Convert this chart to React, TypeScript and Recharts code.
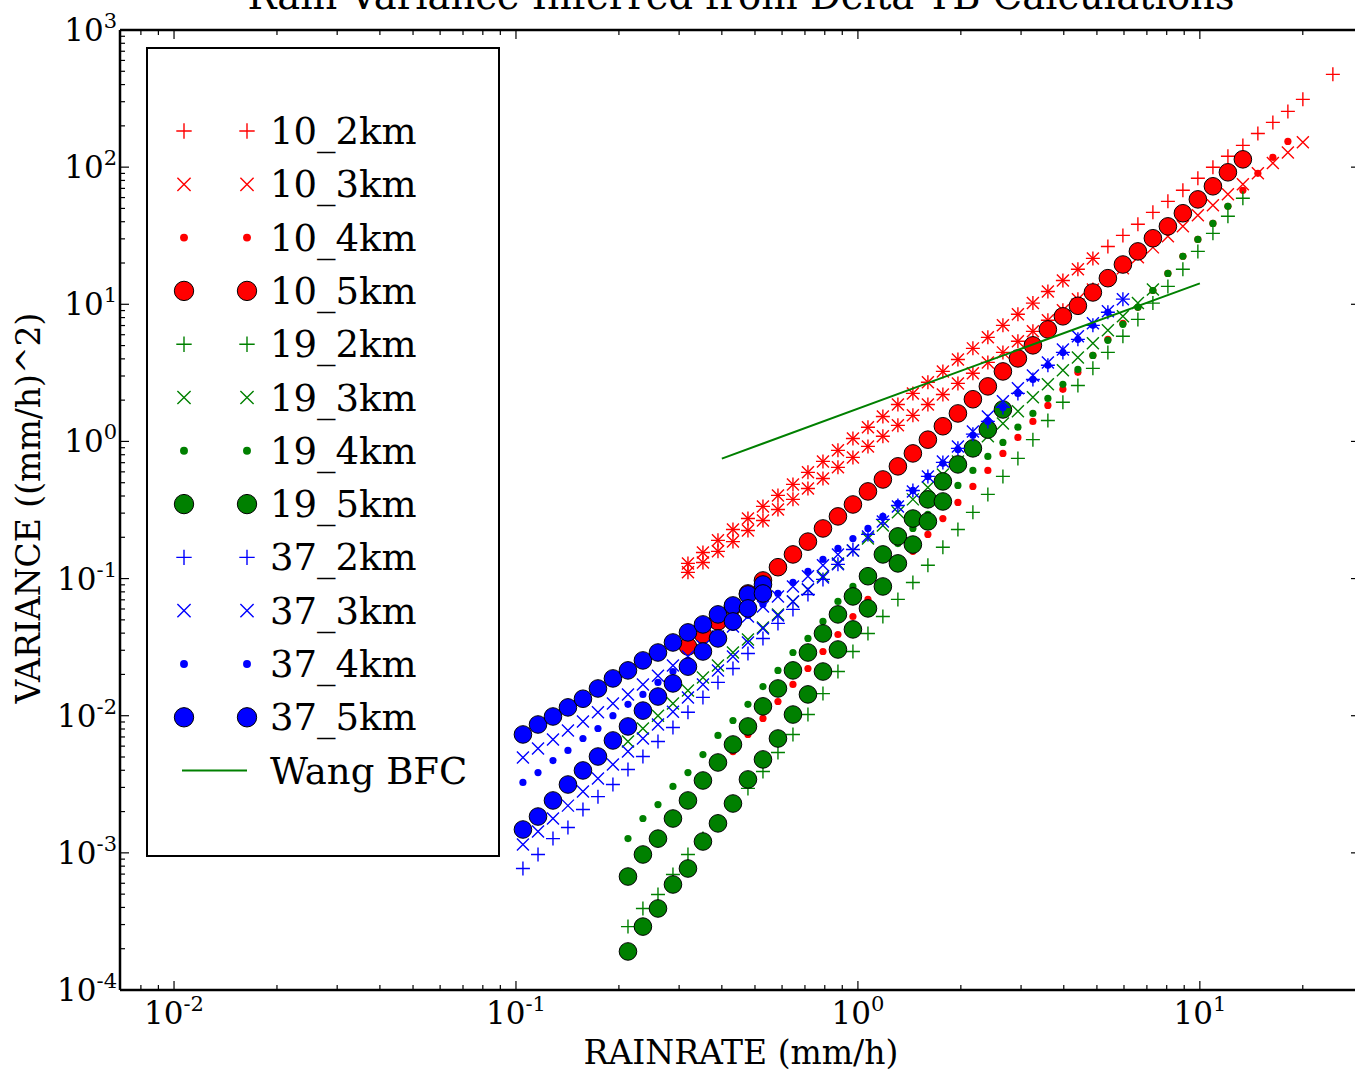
import { ScatterChart, Scatter, XAxis, YAxis, Legend, Label } from 'recharts';

const FONT = '"DejaVu Serif", serif';
const RED = '#ff0000';
const GREEN = '#008000';
const BLUE = '#0000ff';

// rain-rate bins (mm/h) shared by every series
const RAIN = [
  0.1048, 0.1160, 0.1283, 0.1419, 0.1570, 0.1737, 0.1921, 0.2126, 0.2351, 0.2602,
  0.2878, 0.3184, 0.3522, 0.3897, 0.4311, 0.4769, 0.5276, 0.5837, 0.6457, 0.7143,
  0.7903, 0.8742, 0.9670, 1.070, 1.183, 1.309, 1.448, 1.602, 1.772, 1.961,
  2.169, 2.399, 2.655, 2.937, 3.249, 3.594, 3.976, 4.399, 4.866, 5.383,
  5.956, 6.589, 7.289, 8.064, 8.920, 9.867, 10.92, 12.08, 13.36, 14.78,
  16.35, 18.09, 20.01, 22.13, 24.49,
];

// variance ((mm/h)^2), first value sits on RAIN[start]
const V10_2KM = { start: 11, values: [
  0.129, 0.155, 0.190, 0.228, 0.274, 0.336, 0.404, 0.486, 0.595, 0.715, 0.861, 1.05, 1.27, 1.52,
  1.86, 2.24, 2.70, 3.24, 3.96, 4.77, 5.74, 7.02, 8.45, 10.2, 12.4, 14.9, 18.0, 21.6, 26.4, 31.8,
  38.3, 46.8, 56.3, 67.8, 82.9, 99.7, 120, 144, 176, 212, 255, 312, null, 475,
] };
const V10_2KM_LOWER = { start: 11, values: [
  0.111, 0.131, 0.158, 0.186, 0.224, 0.265, 0.319, 0.378, 0.454, 0.537, 0.647, 0.765, 0.920, 1.09,
  1.31, 1.55, 1.86, 2.20, 2.65, 3.14, 3.77, 4.46, 5.37, 6.35, 7.64, 9.03, 10.9, 12.8,
] };
const V10_3KM = { start: 11, values: [
  0.111, 0.131, 0.158, 0.186, 0.224, 0.265, 0.319, 0.378, 0.454, 0.537, 0.647, 0.765, 0.920, 1.09,
  1.31, 1.55, 1.86, 2.20, 2.65, 3.14, 3.77, 4.46, 5.37, 6.35, 7.64, 9.03, 10.9, 12.8, 15.5, 18.3,
  22.0, 26.0, 31.3, 37.0, 44.5, 52.7, 63.4, 74.9, 90.2, 107, 128, 152,
] };
const V10_3KM_UPPER = { start: 11, values: [
  0.129, 0.155, 0.190, 0.228, 0.274, 0.336, 0.404, 0.486, 0.595, 0.715, 0.861, 1.05, 1.27, 1.52,
  1.86, 2.24, 2.70, 3.24, 3.96, 4.77, 5.74, 7.02, 8.45, 10.2, 12.4, 14.9, 18.0, 21.6,
] };
const V10_4KM = { start: 14, values: [
  0.00548, 0.0073, 0.00955, 0.0127, 0.0169, 0.0221, 0.0294, 0.0391, 0.0529, 0.0705, 0.0906, 0.119,
  0.158, 0.210, 0.274, 0.359, 0.470, 0.615, 0.818, 1.07, 1.40, 1.83, 2.40, 3.19, 4.24, 5.55, 7.26,
  9.51, 12.6, 16.8, 22.4, 29.7, 38.9, 51.8, 67.8, 90.2, 118, 154,
] };
const V10_5KM = { start: 11, values: [
  0.0320, 0.0391, 0.0487, 0.0626, 0.0779, 0.0969, 0.121, 0.150, 0.186, 0.232, 0.284, 0.347, 0.432,
  0.528, 0.658, 0.818, 1.03, 1.29, 1.60, 2.03, 2.52, 3.24, 4.03, 5.02, 6.56, 8.17, 9.75, 12.2, 15.5,
  19.5, 24.3, 30.3, 37.0, 46.1, 58.2, 72.5, 91.7, 114,
] };
const V19_2KM = { start: 7, values: [
  0.00029, 0.000393, 0.000497, 0.000695, 0.000973, 0.00127, 0.00169, 0.00225, 0.00295, 0.00392,
  0.00539, 0.0073, 0.0102, 0.0145, 0.0210, 0.0294, 0.0398, 0.0529, 0.0705, 0.0937, 0.125, 0.169,
  0.228, 0.304, 0.411, 0.556, 0.752, 1.03, 1.42, 1.93, 2.56, 3.41, 4.46, 5.84, 7.76, 10.2, 13.5,
  18.0, 24.3, 32.9, 43.8, 59.3,
] };
const V19_3KM = { start: 7, values: [
  0.00649, 0.00807, 0.0100, 0.0123, 0.0153, 0.0190, 0.0232, 0.0289, 0.0360, 0.0440, 0.0548, 0.0681,
  0.0833, 0.104, 0.129, 0.160, 0.196, 0.244, 0.304, 0.378, 0.462, 0.575, 0.715, 0.875, 1.09, 1.35,
  1.66, 2.10, 2.61, 3.30, 4.10, 5.19, 6.46, 8.17, 10.2, 12.8,
] };
const V19_4KM = { start: 7, values: [
  0.00127, 0.00178, 0.00225, 0.00305, 0.00385, 0.00521, 0.00718, 0.00923, 0.0121, 0.0163, 0.0214,
  0.0289, 0.0366, 0.0487, 0.0681, 0.0876, 0.111, 0.143, 0.180, 0.232, 0.294, 0.378, 0.478, 0.615,
  0.778, 0.984, 1.27, 1.60, 2.06, 2.61, 3.35, 4.24, 5.46, 7.14, 9.51, 12.6, 16.8, 22.4, 29.7, 38.9, 51.8,
] };
const V19_5KM_UPPER = { start: 7, values: [
  0.000672, 0.000973, 0.00127, 0.00178, 0.00241, 0.00337, 0.00456, 0.00617, 0.00835, 0.0117, 0.0158,
  0.0214, 0.0289, 0.0398, 0.0548, 0.0741, 0.104, 0.150, 0.203, 0.274, 0.378, 0.511, 0.680, 0.890, 1.22, 1.71,
] };
const V19_5KM_LOWER = { start: 7, values: [
  0.000191, 0.00029, 0.000393, 0.000588, 0.000769, 0.00121, 0.00164, 0.00229, 0.00343, 0.0048, 0.00682,
  0.0102, 0.0143, 0.0210, 0.0304, 0.0426, 0.0606, 0.0876, 0.129, 0.177, 0.261, 0.365,
] };
const V37_2KM = { start: 0, values: [
  0.000769, 0.000973, 0.00127, 0.00153, 0.00207, 0.00257, 0.00315, 0.00405, 0.00504, 0.00649, 0.00821,
  0.0106, 0.0136, 0.0175, 0.0221, 0.0284, 0.0366, 0.0471, 0.0596, 0.0766, 0.0986, 0.127, 0.163, 0.210,
  0.270, 0.341, 0.439, 0.556, 0.703, 0.890, 1.13, 1.40, 1.77, 2.24, 2.83, 3.59, 4.46, 5.55, 7.02, 8.74, 10.9,
] };
const V37_3KM_UPPER = { start: 0, values: [
  0.00496, 0.00577, 0.00671, 0.0078, 0.00908, 0.0106, 0.0123, 0.0143, 0.0169, 0.0196, 0.0232, 0.0270,
  0.0320, 0.0378, 0.0447, 0.0529, 0.0626, 0.0741, 0.0876, 0.104, 0.125, 0.150,
] };
const V37_3KM_LOWER = { start: 0, values: [
  0.00115, 0.00143, 0.00178, 0.00221, 0.0028, 0.00348, 0.00441, 0.00548, 0.00682, 0.00863, 0.0107,
  0.0136, 0.0169, 0.0214, 0.0270, 0.0342, 0.0433, 0.0538, 0.0681, 0.0833, 0.102, 0.127, 0.160, 0.203,
  0.261, 0.336, 0.432, 0.556, 0.715, 0.920, 1.18, 1.52, 1.96, 2.44, 3.03, 3.77, 4.69, 5.84, 7.26, 8.88, 10.9,
] };
const V37_4KM = { start: 0, values: [
  0.00326, 0.00385, 0.00471, 0.00558, 0.00682, 0.00807, 0.0100, 0.0121, 0.0143, 0.0175, 0.0210, 0.0253,
  0.0304, 0.0366, 0.0440, 0.0538, 0.0648, 0.0779, 0.0937, 0.113, 0.138, 0.166, 0.196, 0.232, 0.284,
  0.353, 0.439, 0.556, 0.692, 0.875, 1.11, 1.40, 1.77, 2.24, 2.83, 3.59, 4.46, 5.55, 7.02, 8.74,
] };
const V37_5KM_UPPER = { start: 0, values: [
  0.0073, 0.00863, 0.00987, 0.0115, 0.0133, 0.0158, 0.0187, 0.0214, 0.0253, 0.0289, 0.0342, 0.0405,
  0.0463, 0.0548, 0.0637, 0.0766, 0.0906,
] };
const V37_5KM_LOWER = { start: 0, values: [
  0.00148, 0.00184, 0.00241, 0.00315, 0.00399, 0.00504, 0.0066, 0.00835, 0.0109, 0.0138, 0.0172,
  0.0228, 0.0294, 0.0366, 0.0487, 0.0606, 0.0779,
] };

// Wang best-fit curve
const WANG_RAIN = [0.4, 2, 10];
const WANG_VAR = [0.749, 3.27, 14.2];

const X_DOMAIN = [0.00695, 29.4];
const Y_DOMAIN = [1e-4, 1e3];
const X_TICKS = [
  0.008, 0.009, 0.01, 0.02, 0.03, 0.04, 0.05, 0.06, 0.07, 0.08, 0.09,
  0.1, 0.2, 0.3, 0.4, 0.5, 0.6, 0.7, 0.8, 0.9, 1, 2, 3, 4, 5, 6, 7, 8, 9, 10, 20,
];
const Y_TICKS: number[] = [];
for (let e = -4; e <= 2; e++) for (let m = 1; m <= 9; m++) Y_TICKS.push(m * 10 ** e);
Y_TICKS.push(1000);

type Kind = 'plus' | 'cross' | 'dot' | 'circle';
type Branch = { start: number; values: (number | null)[] };

function pts(...branches: Branch[]) {
  const out: { x: number; y: number }[] = [];
  branches.forEach((s) => s.values.forEach((v, i) => {
    if (v != null) out.push({ x: RAIN[s.start + i], y: v });
  }));
  return out;
}

const SERIES: { name: string; color: string; kind: Kind; data: { x: number; y: number }[] }[] = [
  { name: '10_2km', color: RED, kind: 'plus', data: pts(V10_2KM, V10_2KM_LOWER) },
  { name: '10_3km', color: RED, kind: 'cross', data: pts(V10_3KM, V10_3KM_UPPER) },
  { name: '10_4km', color: RED, kind: 'dot', data: pts(V10_4KM) },
  { name: '10_5km', color: RED, kind: 'circle', data: pts(V10_5KM) },
  { name: '19_2km', color: GREEN, kind: 'plus', data: pts(V19_2KM) },
  { name: '19_3km', color: GREEN, kind: 'cross', data: pts(V19_3KM) },
  { name: '19_4km', color: GREEN, kind: 'dot', data: pts(V19_4KM) },
  { name: '19_5km', color: GREEN, kind: 'circle', data: pts(V19_5KM_UPPER, V19_5KM_LOWER) },
  { name: '37_2km', color: BLUE, kind: 'plus', data: pts(V37_2KM) },
  { name: '37_3km', color: BLUE, kind: 'cross', data: pts(V37_3KM_UPPER, V37_3KM_LOWER) },
  { name: '37_4km', color: BLUE, kind: 'dot', data: pts(V37_4KM) },
  { name: '37_5km', color: BLUE, kind: 'circle', data: pts(V37_5KM_UPPER, V37_5KM_LOWER) },
];

const WANG = WANG_RAIN.map((x, i) => ({ x, y: WANG_VAR[i] }));

function Marker({ kind, color, cx, cy, k = 1 }: { kind: Kind; color: string; cx: number; cy: number; k?: number }) {
  if (kind === 'plus') {
    const a = 7 * k;
    return <path d={`M${cx - a},${cy}H${cx + a}M${cx},${cy - a}V${cy + a}`} stroke={color} strokeWidth={1.4} fill="none" />;
  }
  if (kind === 'cross') {
    const a = 6 * k;
    return (
      <path d={`M${cx - a},${cy - a}L${cx + a},${cy + a}M${cx - a},${cy + a}L${cx + a},${cy - a}`}
        stroke={color} strokeWidth={1.4} fill="none" />
    );
  }
  if (kind === 'dot') return <circle cx={cx} cy={cy} r={3.6 * k} fill={color} />;
  return <circle cx={cx} cy={cy} r={8.8 * k} fill={color} stroke="#000" strokeWidth={1} />;
}

function isMajor(v: number) {
  const l = Math.log10(v);
  return Math.abs(l - Math.round(l)) < 1e-6;
}

function Pow({ x, y, v, anchor }: { x: number; y: number; v: number; anchor: 'middle' | 'end' }) {
  return (
    <text x={x} y={y} textAnchor={anchor} fontFamily={FONT} fontSize={31} fill="#000">
      10<tspan dy={-13} fontSize={21}>{Math.round(Math.log10(v))}</tspan>
    </text>
  );
}

function XTick(props: any) {
  const { x, y, payload, dir, labels } = props;
  const major = isMajor(payload.value);
  return (
    <g>
      <line x1={x} x2={x} y1={y} y2={y + dir * (major ? 9 : 5)} stroke="#000" strokeWidth={1.2} />
      {labels && major && <Pow x={x} y={y + 34} v={payload.value} anchor="middle" />}
    </g>
  );
}

function YTick(props: any) {
  const { x, y, payload, dir, labels } = props;
  const major = isMajor(payload.value);
  return (
    <g>
      <line x1={x} x2={x + dir * (major ? 9 : 5)} y1={y} y2={y} stroke="#000" strokeWidth={1.2} />
      {labels && major && <Pow x={x - 3} y={y + 11} v={payload.value} anchor="end" />}
    </g>
  );
}

const ROW = 53.3;

function LegendBox() {
  const wangY = 82 + 12 * ROW;
  return (
    <div style={{ width: 354, height: 810, border: '2px solid #000', boxSizing: 'border-box', background: '#fff' }}>
      <svg width={350} height={806} style={{ display: 'block' }}>
        {SERIES.map((s, i) => {
          const cy = 82 + i * ROW;
          return (
            <g key={s.name}>
              <Marker kind={s.kind} color={s.color} cx={36} cy={cy} k={1.1} />
              <Marker kind={s.kind} color={s.color} cx={99} cy={cy} k={1.1} />
              <text x={122} y={cy + 13} fontFamily={FONT} fontSize={37} fill="#000">{s.name}</text>
            </g>
          );
        })}
        <line x1={34} x2={99} y1={wangY} y2={wangY} stroke={GREEN} strokeWidth={2} />
        <text x={122} y={wangY + 13} fontFamily={FONT} fontSize={37} fill="#000">Wang BFC</text>
      </svg>
    </div>
  );
}

const AXIS_LINE = { stroke: '#000', strokeWidth: 2.5 };

export default function App() {
  return (
    <div style={{ position: 'absolute', left: 0, top: 0, width: 1355, height: 1073, overflow: 'hidden', background: '#fff' }}>
      <ScatterChart width={1361} height={1073} margin={{ top: 29, right: 0, bottom: 0, left: 0 }}>
        <XAxis xAxisId="b" dataKey="x" type="number" scale="log" domain={X_DOMAIN} allowDataOverflow
          ticks={X_TICKS} interval={0} tickSize={0} tickMargin={0} tickLine={false} height={83}
          axisLine={AXIS_LINE} tick={(p: any) => <XTick {...p} dir={-1} labels />}>
          <Label content={() => (
            <text x={741} y={1064} textAnchor="middle" fontFamily={FONT} fontSize={33} fill="#000">RAINRATE (mm/h)</text>
          )} />
        </XAxis>
        <XAxis xAxisId="t" orientation="top" dataKey="x" type="number" scale="log" domain={X_DOMAIN} allowDataOverflow
          ticks={X_TICKS} interval={0} tickSize={0} tickMargin={0} tickLine={false} height={1}
          axisLine={AXIS_LINE} tick={(p: any) => <XTick {...p} dir={1} />} />
        <YAxis yAxisId="l" dataKey="y" type="number" scale="log" domain={Y_DOMAIN} allowDataOverflow
          ticks={Y_TICKS} interval={0} tickSize={0} tickMargin={0} tickLine={false} width={120}
          axisLine={AXIS_LINE} tick={(p: any) => <YTick {...p} dir={1} labels />}>
          <Label content={() => (
            <g>
              <text transform="rotate(-90)" x={-508} y={40} textAnchor="middle" fontFamily={FONT} fontSize={33} fill="#000">
                VARIANCE ((mm/h)^2)
              </text>
              <text x={741} y={9} textAnchor="middle" fontFamily={FONT} fontSize={38.5} fill="#000">
                Rain Variance Inferred from Delta TB Calculations
              </text>
            </g>
          )} />
        </YAxis>
        <YAxis yAxisId="r" orientation="right" dataKey="y" type="number" scale="log" domain={Y_DOMAIN} allowDataOverflow
          ticks={Y_TICKS} interval={0} tickSize={0} tickMargin={0} tickLine={false} width={1}
          axisLine={AXIS_LINE} tick={(p: any) => <YTick {...p} dir={-1} />} />
        {SERIES.map((s) => (
          <Scatter key={s.name} name={s.name} data={s.data} xAxisId="b" yAxisId="l" isAnimationActive={false}
            shape={(p: any) => <Marker kind={s.kind} color={s.color} cx={p.cx} cy={p.cy} />} />
        ))}
        <Scatter name="Wang BFC" data={WANG} xAxisId="t" yAxisId="r" isAnimationActive={false}
          line={{ stroke: GREEN, strokeWidth: 2 }} shape={() => <g />} legendType="none" />
        <Legend layout="vertical" align="center" verticalAlign="middle" content={() => <LegendBox />}
          wrapperStyle={{ left: 146, top: 47, width: 354, height: 810 }} />
      </ScatterChart>
    </div>
  );
}
